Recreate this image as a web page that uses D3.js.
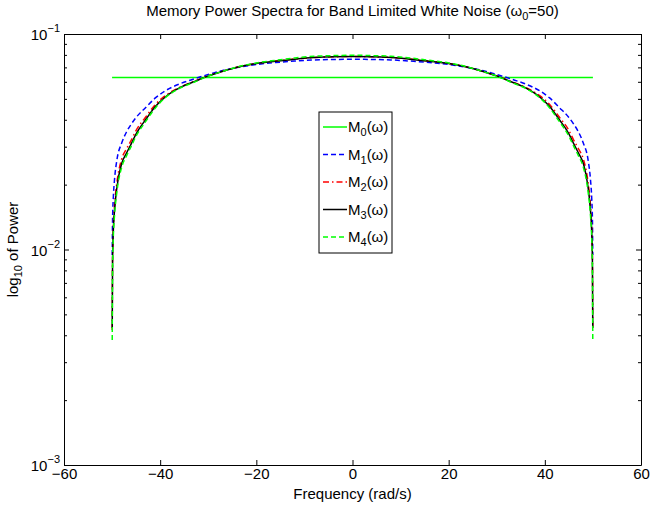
<!DOCTYPE html>
<html><head><meta charset="utf-8">
<script src="https://cdn.jsdelivr.net/npm/d3@7"></script>
<style>
html,body{margin:0;padding:0;background:#fff;}
svg{display:block;font-family:"Liberation Sans",Arial,Helvetica,sans-serif;}
</style></head>
<body><svg id="c" width="650" height="506"></svg>
<script>
const omega = [-49.97,-49.9,-49.75,-49.5,-49,-48,-47,-46,-45,-43,-41,-39,-36,-33,-30,-27,-24,-20,-16,-12,-8,-4,0,4,8,12,16,20,24,27,30,33,36,39,41,43,45,46,47,48,49,49.5,49.75,49.9,49.97];
const omegaM0 = [-50, 50];
const M0 = [0.0628, 0.0628];
const M1 = [0.00943,0.0137,0.0173,0.0210,0.0260,0.0312,0.0351,0.0382,0.0410,0.0456,0.0505,0.0544,0.0586,0.0618,0.0649,0.0677,0.0699,0.0722,0.0737,0.0749,0.0758,0.0762,0.0763,0.0762,0.0758,0.0749,0.0737,0.0722,0.0699,0.0677,0.0649,0.0618,0.0586,0.0544,0.0505,0.0456,0.0410,0.0382,0.0351,0.0312,0.0260,0.0210,0.0173,0.0137,0.00943];
const M2 = [0.00423,0.00913,0.0126,0.0159,0.0204,0.0263,0.0293,0.0322,0.0357,0.0412,0.0471,0.0516,0.0565,0.0602,0.0640,0.0671,0.0701,0.0730,0.0749,0.0766,0.0778,0.0784,0.0786,0.0784,0.0778,0.0766,0.0749,0.0730,0.0701,0.0671,0.0640,0.0602,0.0565,0.0516,0.0471,0.0412,0.0357,0.0322,0.0293,0.0263,0.0204,0.0159,0.0126,0.00913,0.00423];
const M3 = [0.00432,0.00875,0.0121,0.0151,0.0194,0.0251,0.0280,0.0310,0.0344,0.0401,0.0461,0.0509,0.0562,0.0600,0.0639,0.0671,0.0701,0.0730,0.0748,0.0764,0.0777,0.0784,0.0786,0.0784,0.0777,0.0764,0.0748,0.0730,0.0701,0.0671,0.0639,0.0600,0.0562,0.0509,0.0461,0.0401,0.0344,0.0310,0.0280,0.0251,0.0194,0.0151,0.0121,0.00875,0.00432];
const M4 = [0.00380,0.00803,0.0113,0.0143,0.0185,0.0241,0.0272,0.0302,0.0336,0.0393,0.0454,0.0505,0.0559,0.0597,0.0638,0.0671,0.0703,0.0734,0.0755,0.0774,0.0788,0.0794,0.0797,0.0794,0.0788,0.0774,0.0755,0.0734,0.0703,0.0671,0.0638,0.0597,0.0559,0.0505,0.0454,0.0393,0.0336,0.0302,0.0272,0.0241,0.0185,0.0143,0.0113,0.00803,0.00380];
const xTicks = [-60,-40,-20,0,20,40,60];
const yTickExps = [-3,-2,-1];
const legendSubs = ["0","1","2","3","4"];

const svg = d3.select("#c");
const L=64, R=641, T=34, B=465;
const FS=15, SS=11;
const x = d3.scaleLinear().domain([-60,60]).range([L,R]);
const y = d3.scaleLog().domain([1e-3,1e-1]).range([B,T]);

const series = [
  {xs: omegaM0, ys: M0, color:"#00ff00", dash:null},
  {xs: omega, ys: M1, color:"#0000ff", dash:"5,3"},
  {xs: omega, ys: M2, color:"#ff0000", dash:"6,3,1.5,3"},
  {xs: omega, ys: M3, color:"#000000", dash:null},
  {xs: omega, ys: M4, color:"#00ff00", dash:"5,3"}
];

const line = d3.line().x(d=>x(d[0])).y(d=>y(d[1])).curve(d3.curveMonotoneX);
series.forEach(s=>{
  svg.append("path").datum(s.xs.map((v,i)=>[v,s.ys[i]]))
    .attr("d", line).attr("fill","none").attr("stroke", s.color)
    .attr("stroke-width",1.5).attr("stroke-dasharray", s.dash);
});

// axes
const minor = [];
for (let e=-3;e<-1;e++) for (let k=2;k<=9;k++) minor.push(k*Math.pow(10,e));
const fmt = d3.format("");
const gB = svg.append("g").attr("transform",`translate(0,${B})`)
  .call(d3.axisBottom(x).tickValues(xTicks).tickSizeInner(-5).tickSizeOuter(0).tickPadding(3).tickFormat(fmt));
const gT = svg.append("g").attr("transform",`translate(0,${T})`)
  .call(d3.axisTop(x).tickValues(xTicks).tickSizeInner(-5).tickSizeOuter(0).tickFormat(""));
const gL = svg.append("g").attr("transform",`translate(${L},0)`)
  .call(d3.axisLeft(y).tickValues(yTickExps.map(e=>Math.pow(10,e))).tickSizeInner(-5).tickSizeOuter(0).tickFormat(""));
const gLm = svg.append("g").attr("transform",`translate(${L},0)`)
  .call(d3.axisLeft(y).tickValues(minor).tickSizeInner(-3).tickSizeOuter(0).tickFormat(""));
const gR = svg.append("g").attr("transform",`translate(${R},0)`)
  .call(d3.axisRight(y).tickValues(yTickExps.map(e=>Math.pow(10,e))).tickSizeInner(-5).tickSizeOuter(0).tickFormat(""));
const gRm = svg.append("g").attr("transform",`translate(${R},0)`)
  .call(d3.axisRight(y).tickValues(minor).tickSizeInner(-3).tickSizeOuter(0).tickFormat(""));
[gB,gT,gL,gLm,gR,gRm].forEach(g=>{
  g.selectAll(".domain").attr("stroke","#000").attr("stroke-width",1);
  g.selectAll(".tick line").attr("stroke","#000").attr("stroke-width",1);
});
gLm.select(".domain").remove(); gRm.select(".domain").remove();
gB.selectAll(".tick text").attr("font-size",FS).attr("fill","#000")
  .attr("font-family","'Liberation Sans',Arial,sans-serif");

// y tick labels 10^k
yTickExps.forEach(e=>{
  const t = svg.append("text").attr("x", L-4).attr("y", y(Math.pow(10,e))+6)
    .attr("text-anchor","end").attr("font-size",FS).attr("fill","#000");
  t.append("tspan").text("10");
  t.append("tspan").attr("dy",-8).attr("font-size",SS).text("\u2212"+Math.abs(e));
});

// title
const title = svg.append("text").attr("x",(L+R)/2).attr("y",16).attr("text-anchor","middle")
  .attr("font-size",FS).attr("fill","#000");
title.append("tspan").text("Memory Power Spectra for Band Limited White Noise (\u03c9");
title.append("tspan").attr("dy",4).attr("font-size",SS).text("0");
title.append("tspan").attr("dy",-4).text("=50)");

// x label
svg.append("text").attr("x",(L+R)/2).attr("y",499).attr("text-anchor","middle")
  .attr("font-size",FS).attr("fill","#000").text("Frequency (rad/s)");

// y label
const yl = svg.append("text").attr("transform",`translate(18,${(T+B)/2}) rotate(-90)`)
  .attr("text-anchor","middle").attr("font-size",FS).attr("fill","#000");
yl.append("tspan").text("log");
yl.append("tspan").attr("dy",4).attr("font-size",SS).text("10");
yl.append("tspan").attr("dy",-4).text(" of Power");

// legend
const lx=319, ly=112, lw=73, lh=141;
svg.append("rect").attr("x",lx).attr("y",ly).attr("width",lw).attr("height",lh)
  .attr("fill","#fff").attr("stroke","#000").attr("stroke-width",1);
series.forEach((s,i)=>{
  const yy = ly + 15 + i*27.5;
  svg.append("line").attr("x1",lx+4).attr("x2",lx+28).attr("y1",yy).attr("y2",yy)
    .attr("stroke",s.color).attr("stroke-width",1.5).attr("stroke-dasharray",s.dash);
  const t = svg.append("text").attr("x",lx+29).attr("y",yy+5).attr("font-size",FS).attr("fill","#000");
  t.append("tspan").text("M");
  t.append("tspan").attr("dy",4).attr("font-size",SS).text(legendSubs[i]);
  t.append("tspan").attr("dy",-4).text("(\u03c9)");
});
</script></body></html>
